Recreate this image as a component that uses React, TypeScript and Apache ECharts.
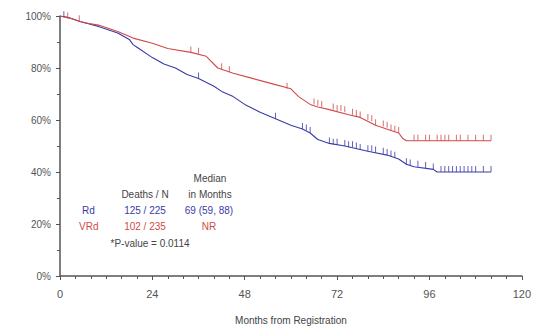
import React, { useEffect, useRef } from "react";
import * as echarts from "echarts";

// Kaplan-Meier estimates: [month, survival %]
const rdCurve: [number, number][] = [
  [0, 100], [2, 99.5], [5, 98], [10, 96], [15, 93.5], [18, 91], [19, 89], [20, 88],
  [24, 84], [27, 81.5], [30, 80], [33, 77.5], [36, 76], [40, 73], [42, 71], [45, 69],
  [48, 66], [52, 63], [56, 60.5], [60, 58], [63, 56.5], [65, 55], [67, 52.5], [70, 51],
  [74, 50], [80, 48], [85, 46.5], [88, 45], [90, 43], [92, 42], [97, 41], [98, 40], [112, 40],
];
const vrdCurve: [number, number][] = [
  [0, 100], [3, 99], [6, 97.5], [10, 96.5], [15, 94], [19, 91.5], [24, 89.5], [28, 87.5],
  [34, 86], [38, 84.5], [41, 80], [45, 78], [50, 76], [55, 74], [60, 72], [62, 69],
  [65, 66], [67, 65], [70, 64], [75, 62], [78, 61], [82, 58], [86, 56], [88, 55],
  [89, 53], [90, 52], [112, 52],
];
// Censor marks: [month, survival %]
const rdCensored: [number, number][] = [
  [1, 99.5], [36, 76], [56, 60.5], [63, 56.5], [64, 56], [65, 55], [70, 51], [71, 50.5],
  [72, 50.5], [74, 50], [75, 49.5], [76, 49.5], [77, 49], [78, 48.5], [80, 48], [81, 48],
  [82, 47.5], [84, 47], [85, 46.5], [86, 46], [87, 45.5], [90, 43], [91, 42.5], [93, 42],
  [95, 41.5], [97, 41], [99, 40], [100, 40], [101, 40], [102, 40], [103, 40], [104, 40],
  [105, 40], [106, 40], [107, 40], [108, 40], [110, 40], [112, 40],
];
const vrdCensored: [number, number][] = [
  [2, 99], [5, 98], [34, 86], [36, 85.5], [42, 79.5], [44, 78.5], [59, 72], [66, 66],
  [67, 65.5], [68, 65], [71, 64], [72, 63.5], [73, 63.5], [74, 63], [76, 62], [77, 61.5],
  [78, 61], [80, 60], [81, 59.5], [82, 58], [84, 57.5], [85, 57], [86, 56], [87, 55.5],
  [88, 55], [92, 52], [93, 52], [95, 52], [96, 52], [98, 52], [99, 52], [100, 52],
  [101, 52], [103, 52], [104, 52], [106, 52], [108, 52], [110, 52], [112, 52],
];

const groups = ["Rd", "VRd"];
const deathsN = ["125 / 225", "102 / 235"];
const medians = ["69 (59, 88)", "NR"];
const pValueText = "*P-value = 0.0114";
const xAxisTitle = "Months from Registration";

const BLUE = "#3a3aa8";
const RED = "#d04a4a";
const FONT = "Liberation Sans, Arial, sans-serif";

export default function App() {
  const ref = useRef<HTMLDivElement>(null);
  useEffect(() => {
    if (!ref.current) return;
    const chart = echarts.init(ref.current, null, { renderer: "svg" });
    const txt = (x: number, y: number, text: string, fill: string, align = "center") => ({
      type: "text",
      x,
      y,
      style: { text, fill, font: `10px ${FONT}`, align, verticalAlign: "middle" },
    });
    chart.setOption({
      animation: false,
      backgroundColor: "#ffffff",
      grid: { left: 60, right: 11, top: 16, bottom: 48 },
      xAxis: {
        type: "value",
        min: 0,
        max: 120,
        interval: 24,
        name: xAxisTitle,
        nameLocation: "middle",
        nameGap: 39,
        nameTextStyle: { color: "#444", fontSize: 10, fontFamily: FONT },
        axisLine: { lineStyle: { color: "#555", width: 1.5 } },
        axisTick: { show: true, length: 4, lineStyle: { color: "#555" } },
        minorTick: { show: true, splitNumber: 6, length: 3, lineStyle: { color: "#555" } },
        axisLabel: { color: "#555", fontSize: 11, fontFamily: FONT, margin: 12 },
        splitLine: { show: false },
      },
      yAxis: {
        type: "value",
        min: 0,
        max: 100,
        interval: 20,
        axisLine: { show: true, lineStyle: { color: "#555", width: 1.5 } },
        axisTick: { show: true, length: 4, lineStyle: { color: "#555" } },
        minorTick: { show: true, splitNumber: 2, length: 3, lineStyle: { color: "#555" } },
        axisLabel: { color: "#555", fontSize: 10, fontFamily: FONT, formatter: "{value}%", margin: 9 },
        splitLine: { show: false },
      },
      series: [
        {
          type: "line",
          data: rdCurve,
          symbol: "none",
          lineStyle: { color: BLUE, width: 1.1 },
          z: 3,
        },
        {
          type: "line",
          data: vrdCurve,
          symbol: "none",
          lineStyle: { color: RED, width: 1.1 },
          z: 3,
        },
        {
          type: "scatter",
          data: rdCensored,
          symbol: "rect",
          symbolSize: [1, 6],
          symbolOffset: [0, -3],
          itemStyle: { color: BLUE },
          z: 4,
        },
        {
          type: "scatter",
          data: vrdCensored,
          symbol: "rect",
          symbolSize: [1, 6],
          symbolOffset: [0, -3],
          itemStyle: { color: RED },
          z: 4,
        },
      ],
      graphic: [
        txt(210, 178, "Median", "#444"),
        txt(145, 194, "Deaths / N", "#444"),
        txt(210, 194, "in Months", "#444"),
        txt(82, 210, groups[0], BLUE, "left"),
        txt(145, 210, deathsN[0], BLUE),
        txt(209, 210, medians[0], BLUE),
        txt(79, 226, groups[1], RED, "left"),
        txt(145, 226, deathsN[1], RED),
        txt(209, 226, medians[1], RED),
        txt(150, 243, pValueText, "#444"),
      ],
    });
    return () => chart.dispose();
  }, []);
  return (
    <div
      ref={ref}
      style={{ position: "fixed", left: 0, top: 0, width: 534, height: 330, background: "#fff" }}
    />
  );
}
